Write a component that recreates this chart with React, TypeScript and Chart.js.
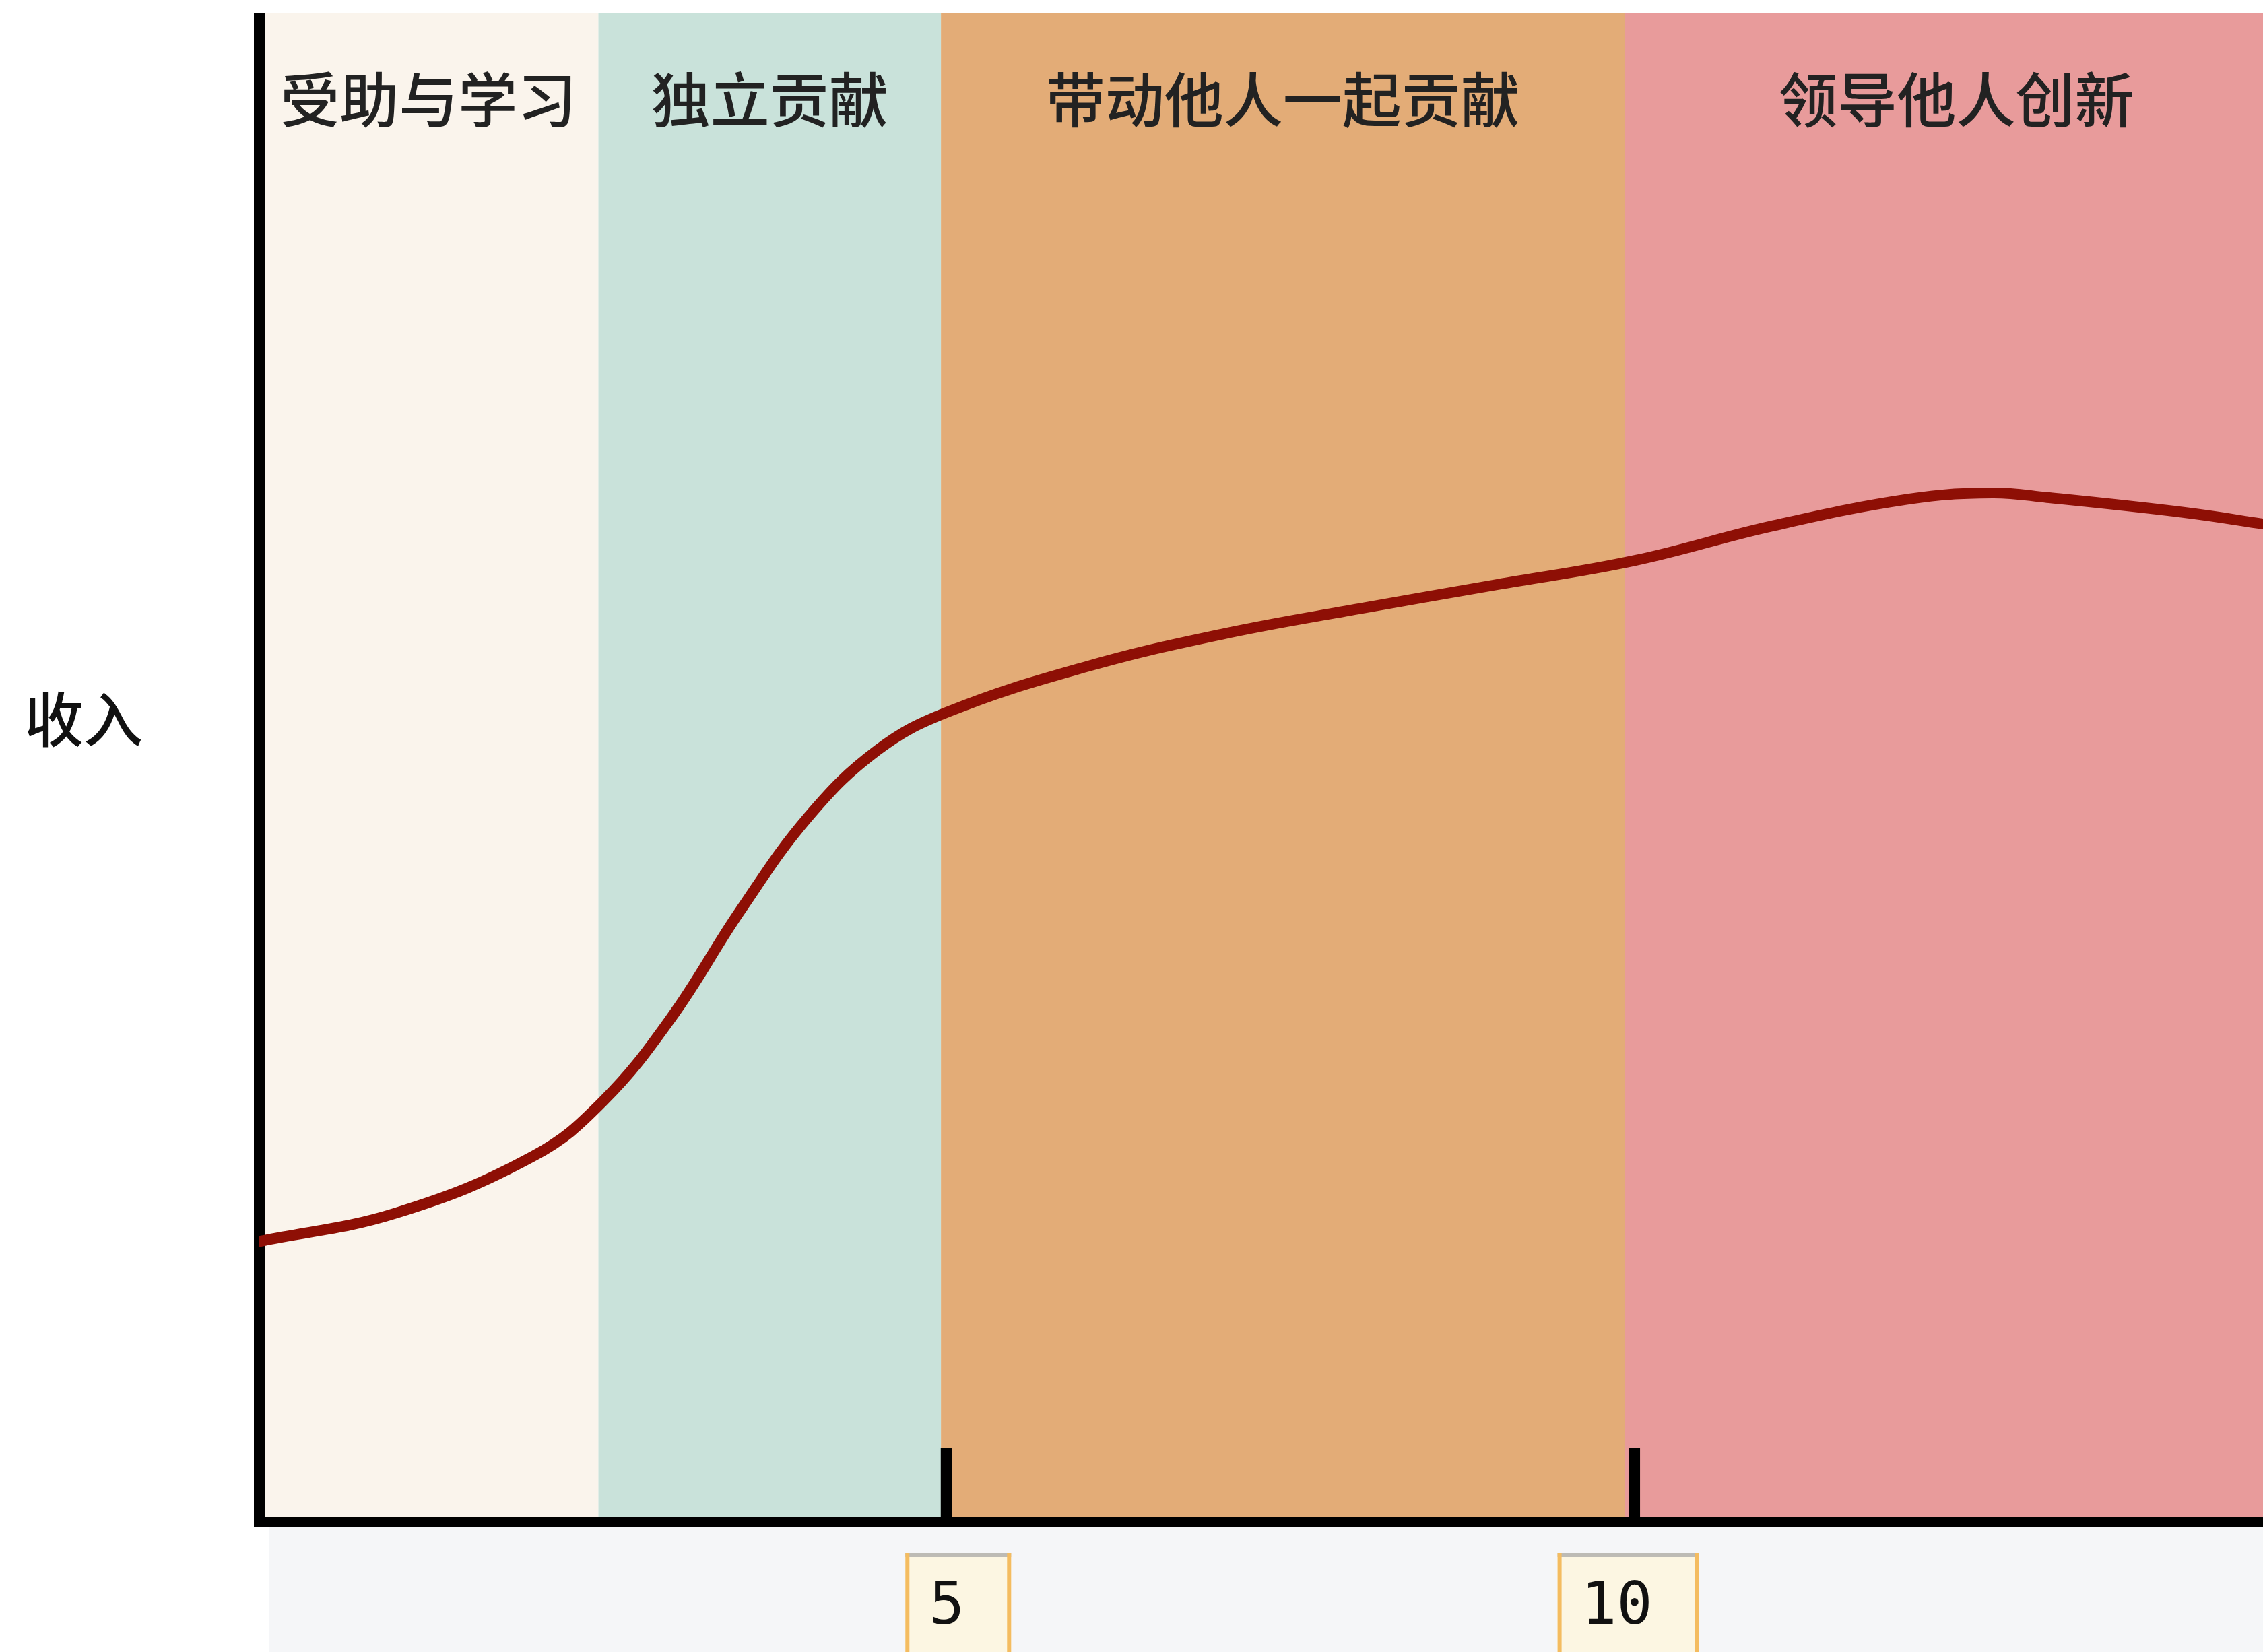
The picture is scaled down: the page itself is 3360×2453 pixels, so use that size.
import { useEffect, useRef } from 'react';
import { Chart, registerables } from 'chart.js';

Chart.register(...registerables);

// Career years (x) and relative income (y, 0–100)
const yearValues = [0, 1, 2, 2.5, 3, 3.5, 4, 4.5, 5, 6, 7, 8, 9, 10, 11, 12, 12.6, 13, 14, 14.6];
const incomeValues = [18.3, 20.2, 24.0, 27.6, 33.2, 40.3, 46.6, 51.0, 53.5, 56.5, 58.7, 60.4, 62.0, 63.6, 65.9, 67.7, 68.1, 67.8, 66.8, 66.0];

const xTickValues = [5, 10];
const xTickLabels = ['5', '10'];

const bandLabels = ['受助与学习', '独立贡献', '带动他人一起贡献', '领导他人创新'];
const bandEdges = [0, 2.47, 4.96, 9.93, 14.75];
const bandColors = ['#FAF4EC', '#C9E2DA', '#E3AC77', '#E89B9B'];

const yAxisTitle = '收入';

const W = 3360;
const H = 2453;

export default function App() {
  const ref = useRef<HTMLCanvasElement>(null);

  useEffect(() => {
    document.body.style.margin = '0';
    document.body.style.overflow = 'hidden';
    const canvas = ref.current!;

    const deco = {
      id: 'deco',
      beforeDatasetsDraw(chart: any) {
        const ctx = chart.ctx as CanvasRenderingContext2D;
        const xs = chart.scales.x;
        const ca = chart.chartArea;
        const axisW = 17;
        const axisH = 16;
        ctx.save();

        // light background under the axis
        ctx.fillStyle = '#F5F6F8';
        ctx.fillRect(400, ca.bottom + axisH, W - 400, H - ca.bottom - axisH);

        // bands
        for (let i = 0; i < bandLabels.length; i++) {
          const p0 = xs.getPixelForValue(bandEdges[i]);
          const p1 = xs.getPixelForValue(bandEdges[i + 1]);
          const a = Math.max(ca.left, p0);
          const b = Math.min(W, p1);
          ctx.fillStyle = bandColors[i];
          ctx.fillRect(a, ca.top, b - a, ca.bottom - ca.top);
        }
        ctx.font = '500 88px "Noto Sans CJK SC", "Noto Sans", sans-serif';
        ctx.textAlign = 'center';
        ctx.textBaseline = 'middle';
        ctx.fillStyle = '#222222';
        for (let i = 0; i < bandLabels.length; i++) {
          const p0 = xs.getPixelForValue(bandEdges[i]);
          const p1 = xs.getPixelForValue(bandEdges[i + 1]);
          ctx.fillText(bandLabels[i], (p0 + p1) / 2, ca.top + 128);
        }

        // y title
        ctx.fillStyle = '#111111';
        ctx.fillText(yAxisTitle, 124, 1068);

        // axes
        ctx.fillStyle = '#000000';
        ctx.fillRect(ca.left - 7, ca.top, axisW, ca.bottom + axisH - ca.top);
        ctx.fillRect(ca.left - 7, ca.bottom, W, axisH);

        // ticks + label boxes
        ctx.font = '88px "DejaVu Sans Mono", monospace';
        ctx.textAlign = 'right';
        for (let i = 0; i < xTickValues.length; i++) {
          const px = xs.getPixelForValue(xTickValues[i]);
          ctx.fillStyle = '#000000';
          ctx.fillRect(px - axisW / 2, ca.bottom - 102, axisW, 102);

          const label = xTickLabels[i];
          const tw = ctx.measureText(label).width;
          const tr = px + 27;
          const bl = tr - tw - 35;
          const br = tr + 69;
          const bw = br - bl;
          const bt = ca.bottom + 54;
          ctx.fillStyle = '#FCF6E2';
          ctx.fillRect(bl, bt, bw, H - bt);
          ctx.fillStyle = '#BDBBB5';
          ctx.fillRect(bl, bt, bw, 6);
          ctx.fillStyle = '#F4BC60';
          ctx.fillRect(bl, bt, 6, H - bt);
          ctx.fillRect(bl + bw - 6, bt, 6, H - bt);
          ctx.fillStyle = '#111111';
          ctx.fillText(label, tr, bt + 82);
        }
        ctx.restore();
      },
    };

    const chart = new Chart(canvas, {
      type: 'scatter',
      data: {
        datasets: [
          {
            data: yearValues.map((x, i) => ({ x, y: incomeValues[i] })),
            showLine: true,
            borderColor: '#8E0F05',
            borderWidth: 16,
            pointRadius: 0,
            pointHoverRadius: 0,
            tension: 0.4,
            borderCapStyle: 'round',
            borderJoinStyle: 'round',
          } as any,
        ],
      },
      options: {
        responsive: false,
        devicePixelRatio: 1,
        animation: false,
        layout: { padding: { left: 384, top: 20, right: 0, bottom: 201 } },
        scales: {
          x: { type: 'linear', min: 0, max: 14.57, display: false },
          y: { type: 'linear', min: 0, max: 100, display: false },
        },
        plugins: {
          legend: { display: false },
          tooltip: { enabled: false },
        },
      },
      plugins: [deco],
    });

    return () => chart.destroy();
  }, []);

  return <canvas ref={ref} width={W} height={H} style={{ display: 'block', width: W, height: H }} />;
}
